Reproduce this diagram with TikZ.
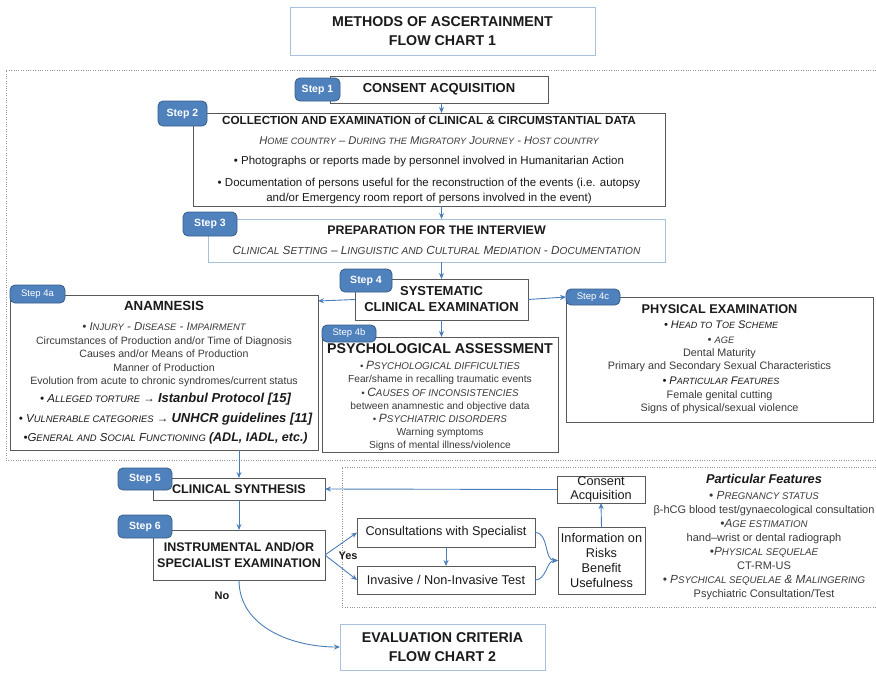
\documentclass[tikz,border=0pt]{standalone}
\usepackage{fontspec}
\setmainfont{Liberation Sans}
\usetikzlibrary{arrows.meta,calc}
\definecolor{badgeblue}{HTML}{4F81BD}
\definecolor{badgeline}{HTML}{385D8A}
\definecolor{arrowblue}{HTML}{4A7EBB}
\definecolor{boxgray}{HTML}{595959}
\definecolor{lightblue}{HTML}{A7C0DE}
\definecolor{txt}{HTML}{1A1A1A}
\definecolor{txtgray}{HTML}{3A3A3A}
\newcommand{\fsc}[2]{#1\scalebox{0.82}{#2}}
\newcommand{\fscw}[2]{#1\scalebox{0.86}{#2}}
\newcommand{\fsz}[2]{\fontsize{#1}{#2}\selectfont}
\begin{document}
\begin{tikzpicture}[x=1pt,y=-1pt,
 box/.style={draw=boxgray, line width=0.9pt, fill=white, inner sep=0pt, outer sep=0pt, align=center, text=txt, anchor=north west},
 lbox/.style={box, draw=lightblue, line width=1pt},
 badge/.style={draw=badgeline, fill=badgeblue, line width=0.8pt, rounded corners=5pt, text=white, inner sep=0pt, outer sep=0pt, font=\bfseries\fsz{10.5}{12}},
 sbadge/.style={badge, font=\fsz{9.5}{11}},
 arr/.style={draw=arrowblue, line width=0.9pt, -{Stealth[length=6pt,width=5pt]}},
 dotline/.style={draw=gray!85, line width=0.8pt, dash pattern=on 0.8pt off 1.6pt},
 lbl/.style={font=\bfseries\fsz{11}{12}, inner sep=0pt, text=txt},
 txtnode/.style={align=center, inner sep=0pt, outer sep=0pt, text=txtgray}
]
\fill[white] (0,0) rectangle (876,673);
\useasboundingbox (0,0) rectangle (876,673);

% dotted regions (open at the right, cut by the picture edge)
\draw[dotline] (876,70) -- (6,70) -- (6,460) -- (876,460);
\draw[dotline] (876,467) -- (342,467) -- (342,607) -- (876,607);

% title
\node[lbox, minimum width=305, minimum height=48, font=\bfseries\fsz{14.2}{19}] (title) at (290,7) {METHODS OF ASCERTAINMENT\\FLOW CHART 1};

% step 1
\node[box, font=\bfseries\fsz{13}{15}, minimum width=218, minimum height=27] (s1) at (330,76) {CONSENT ACQUISITION};
% step 2
\node[box, minimum width=472, minimum height=93, font=\fsz{11.5}{15}] (s2) at (193,113) {%
{\bfseries\fsz{11.7}{15}COLLECTION AND EXAMINATION of CLINICAL \& CIRCUMSTANTIAL DATA}\\[5pt]
{\itshape\color{txtgray}\fsz{11.2}{15}\fsc{H}{OME COUNTRY} – \fsc{D}{URING THE} \fsc{M}{IGRATORY} \fsc{J}{OURNEY} - \fsc{H}{OST COUNTRY}}\\[5pt]
• Photographs or reports made by personnel involved in Humanitarian Action\\[7pt]
• Documentation of persons useful for the reconstruction of the events (i.e. autopsy\\
and/or Emergency room report of persons involved in the event)};
% step 3
\node[lbox, minimum width=457, minimum height=43, font=\fsz{11.8}{14}] (s3) at (208,219) {%
{\bfseries\fsz{12.4}{14}PREPARATION FOR THE INTERVIEW}\\[6pt]
{\itshape\color{txtgray}\fscw{C}{LINICAL} \fscw{S}{ETTING} – \fscw{L}{INGUISTIC AND} \fscw{C}{ULTURAL} \fscw{M}{EDIATION} - \fscw{D}{OCUMENTATION}}};
% step 4
\node[box, font=\bfseries\fsz{13}{16}, minimum width=173, minimum height=41] (s4) at (355,279) {SYSTEMATIC\\CLINICAL EXAMINATION};

% step 4a anamnesis
\node[box, minimum width=308, minimum height=155, font=\fsz{10.6}{13.5}, text=txtgray] (anam) at (10,295) {%
{\bfseries\color{txt}\fsz{13.3}{14}ANAMNESIS}\\[6.5pt]
{\itshape\fsz{11.5}{13.5}• \fsc{I}{NJURY} - \fsc{D}{ISEASE} - \fsc{I}{MPAIRMENT}}\\[0.5pt]
Circumstances of Production and/or Time of Diagnosis\\
Causes and/or Means of Production\\
Manner of Production\\
Evolution from acute to chronic syndromes/current status\\[4.5pt]
{\itshape\color{txt}\fsz{11.5}{13.5} • \fsc{A}{LLEGED TORTURE} → {\bfseries\fsz{13}{13}Istanbul Protocol [15]}}\\[6.5pt]
{\itshape\color{txt}\fsz{11.5}{13.5} • \fsc{V}{ULNERABLE CATEGORIES} → {\bfseries\fsz{13}{13}UNHCR guidelines [11]}}\\[5.5pt]
{\itshape\color{txt}\fsz{11.5}{13.5} •\fsc{G}{ENERAL AND} \fsc{S}{OCIAL} \fsc{F}{UNCTIONING} {\bfseries\fsz{12.5}{13}(ADL, IADL, etc.)}}};

% step 4b psych
\node[box, minimum width=236, minimum height=115] (psych) at (322,337) {};
\node[txtnode, anchor=north, font=\fsz{10.2}{13}] (psychT) at (440,344) {%
{\bfseries\color{txt}\fsz{14.2}{14}PSYCHOLOGICAL ASSESSMENT}\\[3pt]
{\itshape\fsz{9.5}{13}• \fsc{\large P}{SYCHOLOGICAL DIFFICULTIES}}\\
Fear/shame in recalling traumatic events\\[1pt]
{\itshape\fsz{9.5}{13}• \fsc{\large C}{AUSES OF INCONSISTENCIES}}\\
between anamnestic and objective data\\
{\itshape\fsz{9.5}{13}• \fsc{\large P}{SYCHIATRIC DISORDERS}}\\
Warning symptoms\\
Signs of mental illness/violence};

% step 4c physical
\node[box, minimum width=307, minimum height=125, font=\fsz{10.8}{13}, text=txtgray] (phys) at (566,297) {%
{\bfseries\color{txt}\fsz{12.7}{13}PHYSICAL EXAMINATION}\\[2pt]
{\itshape\color{txt}\fsz{11}{13} • \fsc{H}{EAD TO} \fsc{T}{OE} \fsc{S}{CHEME}}\\[2pt]
{\itshape\fsz{11}{13} • \scalebox{0.85}{AGE}}\\
Dental Maturity\\
Primary and Secondary Sexual Characteristics\\[2pt]
{\itshape\color{txt}\fsz{11}{13} • \fsc{P}{ARTICULAR} \fsc{F}{EATURES}}\\[1pt]
Female genital cutting\\
Signs of physical/sexual violence};

% step 5, 6
\node[box, font=\bfseries\fsz{12.6}{14}, minimum width=172, minimum height=22] (s5) at (153,478) {CLINICAL SYNTHESIS};
\node[box, font=\bfseries\fsz{12.5}{16}, minimum width=172, minimum height=50] (s6) at (153,530) {INSTRUMENTAL AND/OR\\SPECIALIST EXAMINATION};

% lower right
\node[box, font=\fsz{12.7}{14}, minimum width=178, minimum height=29] (cons) at (357,518) {Consultations with Specialist};
\node[box, font=\fsz{12.7}{14}, minimum width=178, minimum height=28] (inv) at (357,566) {Invasive / Non-Invasive Test};
\node[box, font=\fsz{12.7}{15}, minimum width=87, minimum height=67] (info) at (558,527) {Information on\\Risks\\Benefit\\Usefulness};
\node[box, font=\fsz{12.7}{14}, minimum width=88, minimum height=27] (consent) at (557,476) {Consent\\Acquisition};

\node[txtnode, font=\fsz{11}{14}] (pf) at (764,537) {%
{\bfseries\itshape\color{txt}\fsz{12.8}{14}Particular Features}\\[2pt]
{\itshape\fsz{11.8}{14}• \fsc{P}{REGNANCY STATUS}}\\
β-hCG blood test/gynaecological consultation\\
{\itshape\fsz{11.8}{14}•\fsc{A}{GE ESTIMATION}}\\
hand–wrist or dental radiograph\\
{\itshape\fsz{11.8}{14}•\fsc{P}{HYSICAL SEQUELAE}}\\
CT-RM-US\\
{\itshape\fsz{11.8}{14}• \fsc{P}{SYCHICAL SEQUELAE} \& \fsc{M}{ALINGERING}}\\
Psychiatric Consultation/Test};

% evaluation
\node[lbox, minimum width=205, minimum height=46, font=\bfseries\fsz{14.2}{19}] (eval) at (340,624) {EVALUATION CRITERIA\\FLOW CHART 2};

% labels
\node[lbl] (yes) at (348,556) {Yes};
\node[lbl] (no) at (222,596) {No};

% badges
\node[badge, minimum width=45, minimum height=23] (b1) at (317.5,89.5) {Step 1};
\node[badge, minimum width=49, minimum height=25] (b2) at (182.5,113.5) {Step 2};
\node[badge, minimum width=54, minimum height=24] (b3) at (210,224) {Step 3};
\node[badge, minimum width=52, minimum height=23] (b4) at (366,280.5) {Step 4};
\node[sbadge, minimum width=55, minimum height=18] (b4a) at (37.5,294) {Step 4a};
\node[sbadge, minimum width=54, minimum height=17] (b4b) at (349,333.5) {Step 4b};
\node[sbadge, minimum width=54, minimum height=16] (b4c) at (593,297) {Step 4c};
\node[badge, minimum width=54, minimum height=22] (b5) at (145,479) {Step 5};
\node[badge, minimum width=54, minimum height=23] (b6) at (145,526.5) {Step 6};

% connectors
\draw[arr] (s1.south -| s4.north) -- (s2.north -| s4.north);
\draw[arr] (s2.south -| s4.north) -- (s3.north -| s4.north);
\draw[arr] (s3.south -| s4.north) -- (s4.north);
\draw[arr] (s4.west) -- ($(anam.north east)+(0,6)$);
\draw[arr] (s4.east) -- (b4c.west);
\draw[arr] (s4.south) -- (psych.north -| s4.south);
\draw[arr] (anam.south -| s5.north) -- (s5.north);
\draw[arr] (s5.south) -- (s6.north);
\draw[arr] (s6.east) -- (cons.west);
\draw[arr] (s6.east) -- (inv.west);
\draw[arr] (cons.south) -- (inv.north);
\draw[arr] (cons.east) to[out=0,in=180] (info.west);
\draw[arr] (inv.east) to[out=0,in=180] (info.west);
\draw[arr] (info.north) -- (consent.south);
\draw[arr] (consent.west) -- (s5.east);
\draw[arr] (s6.south) to[out=-90,in=180] (eval.west);
\end{tikzpicture}
\end{document}
